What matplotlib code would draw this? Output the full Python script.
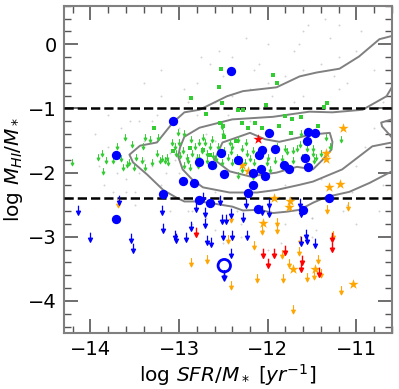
import matplotlib
matplotlib.use('Agg')
import matplotlib.pyplot as plt
from matplotlib.path import Path

# detected blue galaxies
blue_x = [-12.41, -13.07, -13.71, -12.77, -12.96, -12.83, -13.18, -13.71, -12.77, -12.65,
          -11.99, -11.55, -11.47, -11.56, -11.92, -12.06, -12.10, -12.53, -12.63, -12.34,
          -12.49, -12.08, -12.03, -12.17, -11.82, -11.76, -11.58, -11.54, -12.17, -12.22,
          -12.11, -11.60, -11.31]
blue_y = [-0.41, -1.20, -1.72, -1.83, -2.13, -2.16, -2.33, -2.73, -2.42, -2.47,
          -1.39, -1.36, -1.39, -1.50, -1.63, -1.64, -1.72, -1.69, -1.88, -1.81,
          -2.02, -1.94, -2.06, -2.00, -1.88, -1.94, -1.77, -1.92, -2.20, -2.31,
          -2.56, -2.59, -2.39]

# blue upper limits
blue_lim_x = [-14.14, -14.01, -13.68, -13.54, -13.52, -13.19, -13.18, -13.05, -13.03, -12.92,
              -12.86, -12.81, -12.73, -12.71, -12.71, -12.69, -12.64, -12.54, -12.52, -12.47,
              -12.41, -12.50, -12.40, -12.41, -12.23, -12.24, -12.07, -11.98, -11.98, -11.64,
              -11.63, -11.57, -11.56, -11.47, -11.63, -12.28]
blue_lim_y = [-2.59, -3.00, -2.42, -3.02, -3.17, -2.59, -2.86, -2.97, -3.02, -3.00,
              -2.83, -2.53, -2.38, -2.61, -2.78, -3.05, -3.08, -2.42, -2.72, -2.73,
              -2.63, -2.98, -2.98, -3.25, -2.98, -2.47, -2.58, -2.47, -2.61, -2.48,
              -2.61, -2.95, -3.03, -3.09, -3.06, -2.69]

# special galaxy (open circle)
open_x = [-12.49]
open_y = [-3.45]

# green detections and limits
green_x = [-12.87, -13.28, -12.70, -13.07, -12.53, -12.55, -11.94, -11.90, -12.52, -12.02,
           -12.34, -12.28, -11.33, -11.37, -11.80, -11.73, -11.63, -11.43, -11.87, -12.14,
           -12.29, -12.06, -12.22, -12.54, -12.51, -11.74, -12.49, -12.36, -12.73, -12.65,
           -12.88]
green_y = [-0.83, -1.31, -1.08, -1.66, -0.38, -0.67, -0.48, -0.61, -0.92, -0.95,
           -1.03, -1.02, -0.92, -0.98, -1.11, -1.16, -1.14, -1.28, -1.27, -1.23,
           -1.22, -1.30, -1.31, -1.22, -1.27, -1.39, -1.45, -1.50, -1.64, -1.73,
           -1.61]
green_lim_x = [-14.21, -13.92, -13.86, -13.87, -13.83, -13.75, -13.70, -13.66, -13.63, -13.61,
               -13.59, -13.56, -13.53, -13.51, -13.49, -13.42, -13.41, -13.39, -13.39, -13.30,
               -13.25, -13.24, -13.22, -13.19, -13.16, -13.14, -13.13, -13.08, -13.05, -13.03,
               -13.01, -13.00, -12.99, -12.94, -12.91, -12.88, -12.85, -12.80, -12.78, -12.73,
               -12.71, -12.65, -12.56, -12.52, -12.51, -12.43, -12.40, -12.34, -12.29, -12.24,
               -12.23, -12.17, -12.20, -12.26, -12.40, -12.45, -12.52, -12.58, -12.62, -12.69,
               -12.74, -12.77, -12.35, -12.29, -12.15, -12.00, -11.89, -11.81, -11.78, -11.72,
               -11.67, -11.92, -11.84, -11.97, -11.71, -11.61, -11.64, -12.34, -12.17, -12.01,
               -11.34, -11.17, -11.62, -11.56, -11.49, -11.49, -11.46, -11.40, -11.30, -11.48,
               -12.96, -12.90, -12.82, -12.68, -12.60, -12.94, -12.79, -12.49, -12.41, -12.63,
               -12.86, -13.33]
green_lim_y = [-1.84, -1.75, -1.98, -1.69, -1.80, -1.80, -1.59, -1.77, -1.91, -1.44,
               -1.86, -1.83, -1.56, -1.91, -1.75, -1.80, -1.59, -1.44, -1.91, -1.84,
               -1.69, -1.45, -1.80, -1.77, -1.80, -1.75, -1.83, -1.53, -1.59, -1.69,
               -1.36, -1.53, -1.72, -1.38, -1.75, -1.91, -1.69, -1.75, -1.53, -1.44,
               -1.53, -1.59, -1.59, -1.28, -1.38, -1.52, -1.59, -1.48, -1.61, -1.53,
               -1.69, -1.64, -1.77, -1.83, -1.83, -1.75, -1.83, -1.77, -1.72, -1.69,
               -1.64, -1.75, -1.75, -1.95, -1.83, -1.75, -1.59, -1.61, -1.67, -1.64,
               -1.61, -1.80, -1.77, -1.95, -1.80, -1.75, -1.56, -2.03, -2.06, -1.83,
               -1.45, -1.48, -1.39, -1.61, -1.61, -1.69, -1.75, -1.70, -1.59, -1.80,
               -1.64, -1.80, -1.59, -1.80, -1.88, -1.88, -1.88, -1.64, -1.67, -1.48,
               -1.48, -1.48]

# orange stars and limits
orange_x = [-11.15, -11.34, -11.34, -12.29, -12.22, -11.31, -11.19, -11.75, -11.76, -12.05,
            -11.71, -11.47, -11.04, -11.93]
orange_y = [-1.31, -1.70, -1.78, -1.88, -1.97, -2.22, -2.17, -2.45, -2.53, -2.78,
            -3.50, -3.50, -3.73, -2.39]
orange_lim_x = [-13.69, -12.87, -12.41, -12.07, -11.90, -11.89, -12.16, -11.84, -11.65, -11.64,
                -11.76, -11.56, -11.48, -11.43, -11.40, -11.26, -11.17, -11.72, -11.83, -12.12,
                -12.41, -12.68, -11.33, -11.09, -12.45]
orange_lim_y = [-2.48, -3.39, -2.70, -2.89, -2.77, -2.88, -3.13, -3.27, -3.22, -3.05,
                -3.41, -3.63, -3.59, -3.34, -3.56, -2.97, -3.83, -4.13, -3.64, -3.64,
                -3.75, -3.34, -2.56, -2.52, -3.03]

# red stars and limits
red_x = [-12.11]
red_y = [-1.48]
red_lim_x = [-12.05, -12.00, -11.93, -11.81, -11.61, -11.62, -11.42, -11.28, -11.27, -12.81]
red_lim_y = [-3.25, -3.41, -3.25, -3.20, -3.36, -3.47, -3.55, -3.00, -3.16, -2.92]

# faint background sample
bg_x = [-13.9, -13.6, -13.4, -13.2, -13.0, -12.8, -12.6, -12.4, -12.2, -12.0,
        -11.8, -11.6, -11.4, -11.2, -11.0, -10.8, -13.5, -13.1, -12.7, -12.3,
        -11.9, -11.5, -11.1, -10.7, -13.3, -12.9, -12.5, -12.1, -11.7, -11.3,
        -13.8, -13.4, -13.0, -12.6, -12.2, -11.8, -11.4, -11.0, -12.8, -12.4,
        -12.0, -11.6, -11.2, -13.2, -12.7, -12.2, -11.7, -11.2, -10.8, -12.5,
        -12.0, -11.5, -11.0, -13.6, -13.1, -12.6, -12.1, -11.6, -11.1, -10.7,
        -13.95, -13.75, -13.45, -13.25, -13.15, -12.95, -12.85, -12.35, -11.85, -11.45,
        -11.25, -10.9, -12.65, -12.15, -11.65, -11.15, -13.55, -13.35, -12.45, -11.95,
        -13.85, -13.65, -13.45, -13.25, -13.05, -13.7, -13.5, -13.3, -13.1, -12.9,
        -13.8, -13.6, -13.4, -13.2, -12.75, -12.55, -12.25, -11.55, -11.35, -10.95,
        -12.85, -12.6, -12.3, -12.05, -11.8, -11.5, -11.3, -11.05, -10.85, -10.75]
bg_y = [-1.9, -2.1, -1.5, -2.2, -1.3, -1.1, -0.9, -0.8, -0.7, -0.6,
        -0.5, -0.4, -0.3, -0.2, -0.1, -0.4, -2.5, -2.6, -2.7, -2.8,
        -2.9, -2.7, -2.5, -2.2, -1.2, -0.9, -0.5, -0.3, -0.1, 0.1,
        -1.6, -1.8, -2.0, -2.3, -2.4, -2.2, -2.1, -1.9, -0.6, -0.2,
        0.0, 0.2, 0.3, -0.8, -1.4, -1.2, -0.9, -0.7, -1.3, -3.1,
        -3.2, -3.0, -2.8, -2.3, -1.7, -1.5, -1.0, -0.8, -0.6, -0.9,
        -1.4, -2.3, -2.0, -1.1, -2.0, -0.7, -2.6, -2.6, -3.1, -2.9,
        -0.5, -1.6, -0.3, -0.4, 0.0, -2.6, -1.2, -2.4, -1.1, -0.8,
        -2.2, -1.3, -1.2, -1.5, -1.8, -2.0, -2.3, -1.9, -2.4, -2.6,
        -1.1, -1.0, -0.6, -0.4, -0.2, -0.1, 0.1, 0.3, 0.4, 0.2,
        -2.8, -2.9, -3.0, -2.9, -2.8, -2.7, -2.4, -2.3, -2.4, -2.6]

# contour lines of the reference sample
c1_x = [-10.60, -10.85, -11.08, -11.34, -11.49, -11.64, -11.79, -11.94, -12.09, -12.28,
        -12.40, -12.62, -12.77, -12.94, -13.03, -13.18, -13.36, -13.52, -13.56, -13.44,
        -13.25, -13.07, -12.94, -12.77, -12.46, -12.28, -11.90, -11.64, -11.45, -11.19,
        -10.97, -10.74, -10.60]
c1_y = [-1.98, -2.16, -2.30, -2.38, -2.47, -2.58, -2.61, -2.63, -2.58, -2.59,
        -2.53, -2.48, -2.45, -2.45, -2.39, -2.27, -2.03, -1.84, -1.72, -1.58,
        -1.53, -1.22, -1.06, -1.02, -0.81, -0.73, -0.67, -0.50, -0.44, -0.38,
        -0.19, 0.08, 0.13]
c2_x = [-10.60, -10.66, -10.93, -11.27, -11.53, -11.94, -12.40, -12.77, -12.94, -12.99,
        -13.01, -12.96, -12.85, -12.73, -12.43, -12.12, -11.90, -11.64, -11.49, -11.16,
        -10.82, -10.60]
c2_y = [-0.67, -0.81, -1.02, -1.06, -1.05, -1.13, -1.17, -1.30, -1.44, -1.61,
        -1.75, -1.95, -2.11, -2.23, -2.31, -2.31, -2.27, -2.19, -2.14, -1.95,
        -1.59, -1.53]
c3_x = [-12.60, -12.51, -12.20, -12.03, -11.87, -11.64, -11.53, -11.30, -11.27, -11.28,
        -11.38, -11.49, -11.67, -11.90, -12.20, -12.43, -12.60]
c3_y = [-1.80, -1.53, -1.38, -1.48, -1.52, -1.45, -1.41, -1.38, -1.52, -1.64,
        -1.80, -1.95, -1.91, -2.00, -2.06, -1.98, -1.80]
c4_x = [-10.60, -10.72, -10.71, -10.60]
c4_y = [-1.17, -1.22, -1.28, -1.45]

arrow = Path([(0, 1), (0, -0.15), (-0.42, -0.15), (0.42, -0.15), (0, -1), (-0.42, -0.15)],
             [Path.MOVETO, Path.LINETO, Path.MOVETO, Path.LINETO, Path.LINETO, Path.CLOSEPOLY])

fig = plt.figure(figsize=(3.99, 3.89), dpi=100)
ax = fig.add_axes([0.160, 0.144, 0.822, 0.841])

ax.scatter(bg_x, bg_y, s=2, color='#c0c0c0', alpha=0.7, lw=0, zorder=1)
for cx, cy in [(c1_x, c1_y), (c2_x, c2_y), (c3_x, c3_y), (c4_x, c4_y)]:
    ax.plot(cx, cy, color='#808080', lw=1.4, zorder=2)

ax.axhline(-1, color='k', ls='--', lw=1.8, zorder=3)
ax.axhline(-2.4, color='k', ls='--', lw=1.8, zorder=3)

ax.scatter(green_lim_x, green_lim_y, marker=arrow, s=24, color='#33cc33', lw=0.7, zorder=4)
ax.scatter(green_x, green_y, marker='s', s=12, color='#33cc33', lw=0, zorder=4)
ax.scatter(orange_lim_x, orange_lim_y, marker=arrow, s=40, color='orange', lw=0.8, zorder=5)
ax.scatter(orange_x, orange_y, marker='*', s=60, color='orange', lw=0, zorder=5)
ax.scatter(red_lim_x, red_lim_y, marker=arrow, s=48, color='red', lw=1.0, zorder=5)
ax.scatter(red_x, red_y, marker='*', s=60, color='red', lw=0, zorder=5)
ax.scatter(blue_lim_x, blue_lim_y, marker=arrow, s=48, color='blue', lw=0.9, zorder=6)
ax.scatter(blue_x, blue_y, marker='o', s=45, color='blue', lw=0, zorder=6)
ax.scatter(open_x, [y - 0.14 for y in open_y], marker=arrow, s=60, color='blue', lw=1.2, zorder=6)
ax.scatter(open_x, open_y, marker='o', s=80, facecolor='none', edgecolor='blue', lw=2, zorder=7)

ax.set_xlim(-14.3, -10.6)
ax.set_ylim(-4.5, 0.6)
ax.set_xticks([-14, -13, -12, -11])
ax.set_yticks([0, -1, -2, -3, -4])
ax.minorticks_on()
ax.tick_params(which='both', direction='in', top=True, right=True, colors='#555555',
               labelcolor='k', labelsize=14)
ax.tick_params(which='major', length=10, width=1.2, pad=5)
ax.tick_params(which='minor', length=5, width=1.0)
for sp in ax.spines.values():
    sp.set_color('#808080')
    sp.set_linewidth(1.5)

ax.set_xlabel(r'log $SFR/M_*$ $[yr^{-1}]$', fontsize=14.5, labelpad=2)
ax.set_ylabel(r'log $M_{HI}/M_*$', fontsize=14.5, labelpad=2)

fig.savefig('out.png', dpi=100)
